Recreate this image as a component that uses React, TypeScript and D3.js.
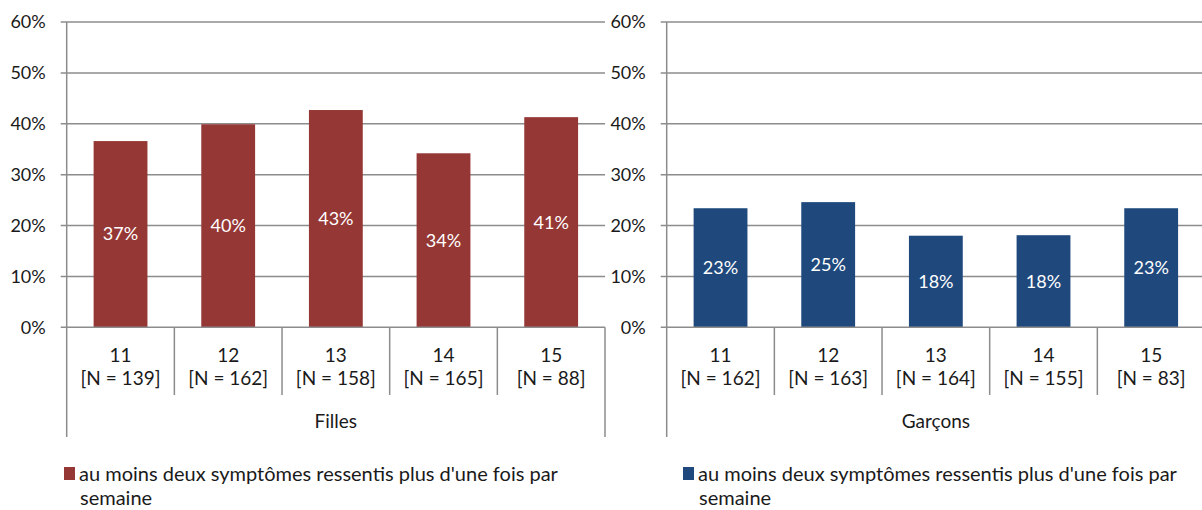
import React, { useRef, useEffect } from 'react';
import * as d3 from 'd3';

const ages = ['11', '12', '13', '14', '15'];
const fillesN = [139, 162, 158, 165, 88];
const garconsN = [162, 163, 164, 155, 83];
const fillesValues = [36.6, 39.9, 42.7, 34.2, 41.3];
const garconsValues = [23.4, 24.6, 18.0, 18.1, 23.4];
const yTicks = [0, 10, 20, 30, 40, 50, 60];
const groupNames = ['Filles', 'Garçons'];
const groupColors = ['#953735', '#1F497D'];
const legendLines = ["au moins deux symptômes ressentis plus d'une fois par", 'semaine'];

const FONT = 'Lato, "Open Sans", sans-serif';
const GRID = '#8c8c8c';

const App = () => {
  const svgRef = useRef<SVGSVGElement>(null);

  useEffect(() => {
    const svg = d3.select(svgRef.current);
    svg.selectAll('*').remove();

    const width = 1202;
    const top = 22;
    const bottom = 327.3;

    const y = d3.scaleLinear().domain([0, 60]).range([bottom, top]);

    const panels = [
      { x0: 66.7, x1: 605, values: fillesValues, ns: fillesN, legendX: 64 },
      { x0: 666.7, x1: 1205, values: garconsValues, ns: garconsN, legendX: 683 },
    ];

    panels.forEach((p, pi) => {
      const g = svg.append('g');
      const x = d3.scaleBand().domain(ages).range([p.x0, p.x1]).paddingInner(0.5).paddingOuter(0.25);
      const band = d3.scaleBand().domain(ages).range([p.x0, p.x1]);

      // gridlines + tick marks
      g.selectAll('line.grid')
        .data(yTicks.filter(t => t > 0))
        .join('line')
        .attr('x1', p.x0 - 6)
        .attr('x2', Math.min(p.x1, width))
        .attr('y1', d => y(d))
        .attr('y2', d => y(d))
        .attr('stroke', GRID)
        .attr('stroke-width', 1.5);

      // y tick labels
      g.selectAll('text.ytick')
        .data(yTicks)
        .join('text')
        .attr('x', p.x0 - 21)
        .attr('y', d => y(d))
        .attr('dy', '0.35em')
        .attr('text-anchor', 'end')
        .attr('font-family', FONT)
        .attr('font-size', 18)
        .attr('fill', '#1a1a1a')
        .text(d => `${d}%`);

      // bars
      g.selectAll('rect.bar')
        .data(p.values)
        .join('rect')
        .attr('x', (d, i) => x(ages[i])!)
        .attr('width', x.bandwidth())
        .attr('y', d => y(d))
        .attr('height', d => y(0) - y(d))
        .attr('fill', groupColors[pi]);

      // data labels
      g.selectAll('text.val')
        .data(p.values)
        .join('text')
        .attr('x', (d, i) => x(ages[i])! + x.bandwidth() / 2)
        .attr('y', d => (y(d) + y(0)) / 2)
        .attr('dy', '0.35em')
        .attr('text-anchor', 'middle')
        .attr('font-family', FONT)
        .attr('font-size', 18)
        .attr('fill', '#ffffff')
        .text(d => `${Math.round(d)}%`);

      // baseline
      g.append('line')
        .attr('x1', p.x0 - 6)
        .attr('x2', Math.min(p.x1, width))
        .attr('y1', y(0))
        .attr('y2', y(0))
        .attr('stroke', GRID)
        .attr('stroke-width', 1.5);

      // y axis line
      g.append('line')
        .attr('x1', p.x0)
        .attr('x2', p.x0)
        .attr('y1', top)
        .attr('y2', 437)
        .attr('stroke', GRID)
        .attr('stroke-width', 1.5);

      // category separators
      const seps = ages.slice(1).map(a => band(a)!);
      g.selectAll('line.sep')
        .data(seps)
        .join('line')
        .attr('x1', d => d)
        .attr('x2', d => d)
        .attr('y1', bottom)
        .attr('y2', 395)
        .attr('stroke', GRID)
        .attr('stroke-width', 1.5);
      g.append('line')
        .attr('x1', p.x1)
        .attr('x2', p.x1)
        .attr('y1', bottom)
        .attr('y2', 437)
        .attr('stroke', GRID)
        .attr('stroke-width', 1.5);

      // category labels
      const cx = (a: string) => band(a)! + band.bandwidth() / 2;
      g.selectAll('text.age')
        .data(ages)
        .join('text')
        .attr('x', d => cx(d))
        .attr('y', 362)
        .attr('text-anchor', 'middle')
        .attr('font-family', FONT)
        .attr('font-size', 19)
        .attr('fill', '#1a1a1a')
        .text(d => d);
      g.selectAll('text.n')
        .data(p.ns)
        .join('text')
        .attr('x', (d, i) => cx(ages[i]))
        .attr('y', 385)
        .attr('text-anchor', 'middle')
        .attr('font-family', FONT)
        .attr('font-size', 19)
        .attr('fill', '#1a1a1a')
        .text(d => `[N = ${d}]`);

      // group label
      g.append('text')
        .attr('x', (p.x0 + p.x1) / 2)
        .attr('y', 428)
        .attr('text-anchor', 'middle')
        .attr('font-family', FONT)
        .attr('font-size', 19)
        .attr('fill', '#1a1a1a')
        .text(groupNames[pi]);

      // legend
      g.append('rect')
        .attr('x', p.legendX)
        .attr('y', 467)
        .attr('width', 11)
        .attr('height', 13)
        .attr('fill', groupColors[pi]);
      const lt = g.append('text')
        .attr('font-family', FONT)
        .attr('font-size', 20)
        .attr('fill', '#1a1a1a');
      lt.selectAll('tspan')
        .data(legendLines)
        .join('tspan')
        .attr('x', (d, i) => p.legendX + (i === 0 ? 15 : 16))
        .attr('y', (d, i) => 481 + i * 24)
        .text(d => d);
    });
  }, []);

  return (
    <div style={{ position: 'fixed', left: 0, top: 0, width: 1202, height: 510, background: '#fff' }}>
      <svg ref={svgRef} width={1202} height={510} style={{ display: 'block' }} />
    </div>
  );
};

export default App;
